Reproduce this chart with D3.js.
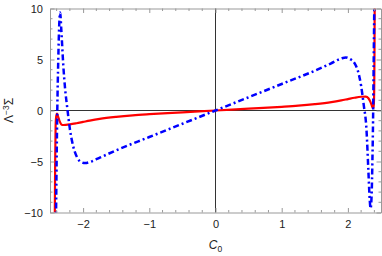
<!DOCTYPE html>
<html><head><meta charset="utf-8">
<script src="https://cdn.jsdelivr.net/npm/d3@7"></script>
<style>body{margin:0;background:#fff}svg{display:block;font-family:"Liberation Sans",Arial,sans-serif}</style>
</head><body><svg id="c" width="382" height="256"></svg>
<script>
const redC0 = [-2.428,-2.422,-2.415,-2.405,-2.395,-2.38,-2.355,-2.33,-2.3,-2.2,-2.1,-2.0,-1.9,-1.75,-1.5,-1.25,-1.0,-0.5,0,0.5,1.0,1.25,1.5,1.75,1.9,2.0,2.1,2.2,2.27,2.31,2.34,2.36,2.375,2.385,2.393,2.398,2.402,2.405];
const redSigma = [-11,-5,-1.5,-0.5,-0.3,-0.55,-1.05,-1.35,-1.42,-1.36,-1.25,-1.12,-0.99,-0.82,-0.62,-0.47,-0.36,-0.18,0,0.18,0.36,0.47,0.62,0.82,0.99,1.12,1.25,1.35,1.37,1.2,0.85,0.5,0.25,0.3,0.8,2.5,6,11];
const blueC0 = [-2.41,-2.40,-2.39,-2.375,-2.36,-2.346,-2.33,-2.3,-2.27,-2.24,-2.2,-2.15,-2.09,-2.03,-1.97,-1.9,-1.74,-1.5,-1.0,-0.5,0,0.5,1.0,1.5,1.74,1.9,1.97,2.03,2.1,2.15,2.2,2.24,2.28,2.31,2.33,2.343,2.36,2.37,2.38,2.39,2.4];
const blueSigma = [-11,-5,0,5,8.5,9.6,8,4.5,2.0,0.3,-1.8,-3.5,-4.6,-5.05,-5.15,-5.05,-4.6,-3.9,-2.6,-1.3,0,1.3,2.6,3.9,4.6,5.1,5.2,5.05,4.65,3.9,2.4,0.5,-1.8,-6.0,-8.8,-9.6,-8,-5,-1,5,11];
const xTicks = [-2,-1,0,1,2];
const yTicks = [-10,-5,0,5,10];

const svg = d3.select("#c");
const L=50, R=381, T=8.5, B=212.5;
const x = d3.scaleLinear().domain([-2.5,2.5]).range([L,R]);
const y = d3.scaleLinear().domain([-10,10]).range([B,T]);
const frameCol="#999", txtCol="#222";

svg.append("clipPath").attr("id","clip").append("rect").attr("x",L).attr("y",T).attr("width",R-L).attr("height",B-T);

svg.append("line").attr("x1",x(0)).attr("x2",x(0)).attr("y1",T).attr("y2",B).attr("stroke","#333").attr("stroke-width",1);
svg.append("line").attr("x1",L).attr("x2",R).attr("y1",y(0)).attr("y2",y(0)).attr("stroke","#333").attr("stroke-width",1);

const line = d3.line().x(d=>x(d[0])).y(d=>y(d[1])).curve(d3.curveMonotoneX);
const g = svg.append("g").attr("clip-path","url(#clip)");
g.append("path").attr("d", line(redC0.map((c,i)=>[c,redSigma[i]]))).attr("fill","none").attr("stroke","#ff0000").attr("stroke-width",2.2);
g.append("path").attr("d", line(blueC0.map((c,i)=>[c,blueSigma[i]]))).attr("fill","none").attr("stroke","#0000ff").attr("stroke-width",2.5).attr("stroke-dasharray","6,3,2,3");

function styleAxis(sel){sel.select(".domain").attr("stroke",frameCol);sel.selectAll(".tick line").attr("stroke",frameCol);sel.selectAll("text").attr("fill",txtCol).attr("font-size",11);}
const fmt = d=>d<0?"\u2212"+Math.abs(d):String(d);
const xMinor = d3.range(-2.4,2.5,0.2).map(v=>+v.toFixed(2)).filter(v=>!xTicks.includes(v));
const yMinor = d3.range(-10,10.01,1).filter(v=>!yTicks.includes(v));
[["bottom",d3.axisBottom(x),B,true],["top",d3.axisTop(x),T,false]].forEach(([side,a,pos,lab])=>{
  const s=svg.append("g").attr("transform",`translate(0,${pos})`).call(a.tickValues(xTicks).tickSizeInner(-4.5).tickSizeOuter(0).tickPadding(8).tickFormat(lab?fmt:()=>""));
  styleAxis(s);
  s.selectAll(".minor").data(xMinor).enter().append("line").attr("x1",d=>x(d)).attr("x2",d=>x(d)).attr("y1",0).attr("y2",side==="bottom"?-2.5:2.5).attr("stroke",frameCol);
});
[["left",d3.axisLeft(y),L,true],["right",d3.axisRight(y),R,false]].forEach(([side,a,pos,lab])=>{
  const s=svg.append("g").attr("transform",`translate(${pos},0)`).call(a.tickValues(yTicks).tickSizeInner(-4.5).tickSizeOuter(0).tickPadding(7).tickFormat(lab?fmt:()=>""));
  styleAxis(s);
  s.selectAll(".minor").data(yMinor).enter().append("line").attr("y1",d=>y(d)).attr("y2",d=>y(d)).attr("x1",0).attr("x2",side==="left"?2.5:-2.5).attr("stroke",frameCol);
});

const yt = svg.append("text").attr("transform",`translate(13,${(T+B)/2}) rotate(-90)`).attr("text-anchor","middle").attr("fill",txtCol).attr("font-size",12);
yt.append("tspan").text("Λ");
yt.append("tspan").attr("dy",-4).attr("font-size",8.5).text("\u22123");
yt.append("tspan").attr("dy",4).text("Σ");
const xt = svg.append("text").attr("x",x(0)).attr("y",249).attr("text-anchor","middle").attr("fill",txtCol).attr("font-size",12);
xt.append("tspan").attr("font-style","italic").text("C");
xt.append("tspan").attr("dy",3).attr("font-size",8.5).text("0");
</script></body></html>
